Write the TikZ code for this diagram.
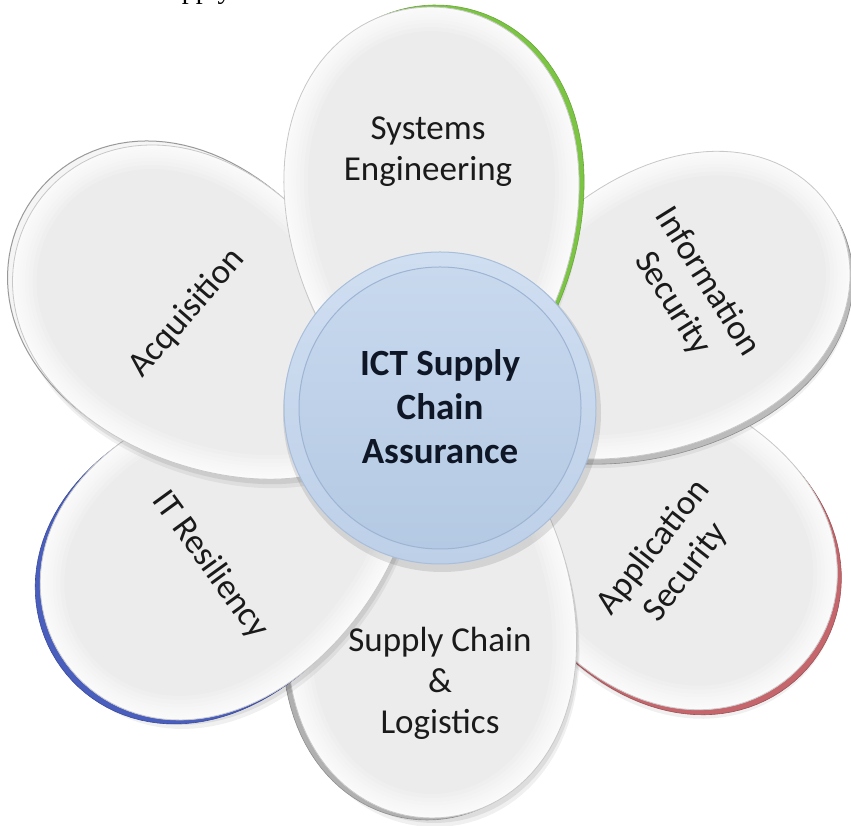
\documentclass[tikz,border=0pt]{standalone}
\usepackage{fontspec}
\setmainfont{Carlito}
\newfontfamily\serifcut{Liberation Serif}
\definecolor{petalface}{HTML}{ECECEC}
\definecolor{petalline}{HTML}{C8C8C8}
\definecolor{segreen}{HTML}{7CC443}
\definecolor{appred}{HTML}{C4666C}
\definecolor{itblue}{HTML}{4A5EBE}
\definecolor{rimgray}{HTML}{8E8E8E}
\definecolor{ringtop}{HTML}{D0DEF1}
\definecolor{ringbot}{HTML}{BDD0E8}
\definecolor{ringline}{HTML}{A9BEDA}
\definecolor{disktop}{HTML}{C8D9EE}
\definecolor{diskbot}{HTML}{B4C9E3}
\definecolor{diskline}{HTML}{9DB4D3}
\definecolor{txtdark}{HTML}{1A1A1A}
\definecolor{txtcenter}{HTML}{0F1726}
\def\eggB{145}
\def\eggpath{plot[domain=0:360,samples=121] ({205*cos(\x)},{\eggB*sin(\x)*(1+0.15*cos(\x))}) -- cycle}
% #1 cx, #2 cy, #3 angle, #4 rim style, #5 rim dx, #6 rim dy, #7 half width
\newcommand\flowerpetal[7]{%
  \def\eggB{#7}%
  \begin{scope}[shift={(#1,#2)}, shift={(3,-9)}, rotate=#3]
    \fill[black, opacity=.06] \eggpath;
  \end{scope}
  \begin{scope}[shift={(#1,#2)}, shift={(2,-5)}, rotate=#3]
    \fill[black, opacity=.08] \eggpath;
  \end{scope}
  \begin{scope}[shift={(#1,#2)}, shift={(#5,#6)}, rotate=#3]
    \filldraw[#4] \eggpath;
  \end{scope}
  \begin{scope}[shift={(#1,#2)}, rotate=#3]
    \fill[petalface] \eggpath;
    \begin{scope}
      \clip \eggpath;
      \foreach \w in {48,40,32,25,19,14,9,5}
        \draw[white, line width=\w, opacity=.2] \eggpath;
    \end{scope}
    \draw[petalline, line width=.8] \eggpath;
  \end{scope}}
\tikzset{
  petaltext/.style={align=center, text=txtdark, inner sep=0pt,
    font=\fontsize{35}{41}\selectfont},
  hubtext/.style={align=center, text=txtcenter, inner sep=0pt,
    font=\bfseries\fontsize{37}{44}\selectfont}
}
\begin{document}
\begin{tikzpicture}[x=1pt, y=1pt]
  \useasboundingbox (0,0) rectangle (851,826);
  \fill[white] (0,0) rectangle (851,826);
  \begin{scope}
    \clip (0,0) rectangle (851,826);
    \node[anchor=base west, inner sep=0pt, font=\serifcut\fontsize{28}{30}\selectfont] (cut) at (152,827.5) {Supply};
  \end{scope}
  % petals, back to front
  \flowerpetal{647}{295}{-38}{fill=appred, draw=appred!80!black, line width=.6}{4}{-5}{145}
  \flowerpetal{432}{213}{-90}{fill=rimgray!70, draw=rimgray, line width=.6}{-5}{-2}{143}
  \flowerpetal{655}{512}{28}{fill=rimgray!60, draw=rimgray, line width=.6}{3}{-5}{136}
  \flowerpetal{232}{283}{216}{fill=itblue, draw=itblue!80!black, line width=.6}{-5}{-4}{145}
  \flowerpetal{205}{505}{145}{fill=gray!8, draw=rimgray!90, line width=1}{-5}{4}{145}
  \flowerpetal{432}{614}{91}{fill=segreen, draw=segreen!85!black, line width=.6}{5}{2}{146}
  % hub
  \fill[black, opacity=.10] (442,413) circle (159);
  \shadedraw[top color=ringtop, bottom color=ringbot, draw=ringline, line width=1] (440,418) circle (156);
  \shadedraw[top color=disktop, bottom color=diskbot, draw=diskline, line width=1] (440,418) circle (141);
  % labels
  \node[petaltext] (se) at (428,674) {Systems\\Engineering};
  \node[petaltext, rotate=-58] (info) at (690,533) {Information\\Security};
  \node[petaltext, rotate=52] (app) at (670,266) {Application\\Security};
  \node[petaltext] (scl) at (440,143) {Supply Chain\\\&\\Logistics};
  \node[petaltext, rotate=-54] (itr) at (210,261) {IT Resiliency};
  \node[petaltext, rotate=49] (acq) at (187,513) {Acquisition};
  \node[hubtext] (hub) at (440,419) {ICT Supply\\Chain\\Assurance};
\end{tikzpicture}
\end{document}
